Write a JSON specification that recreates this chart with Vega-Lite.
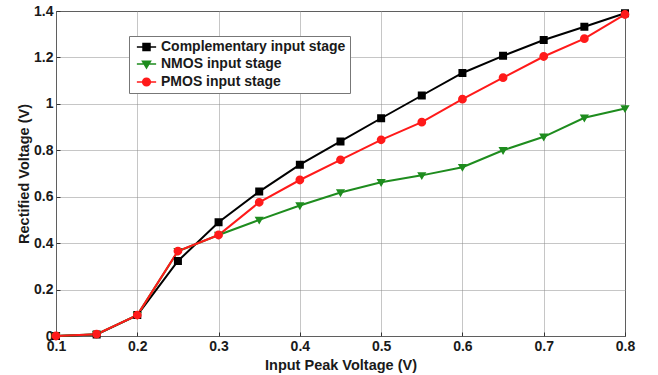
{
  "$schema": "https://vega.github.io/schema/vega-lite/v6.json",
  "width": 569,
  "height": 325,
  "autosize": {"type": "none"},
  "padding": {"left": 56, "top": 11, "right": 33, "bottom": 39},
  "background": "white",
  "config": {
    "view": {"stroke": "#333", "strokeWidth": 1},
    "axis": {
      "labelFont": "Liberation Sans",
      "titleFont": "Liberation Sans",
      "labelFontWeight": "bold",
      "titleFontWeight": "bold",
      "labelFontSize": 14,
      "titleFontSize": 14.5,
      "labelColor": "#1a1a1a",
      "titleColor": "#1a1a1a",
      "domain": false
    }
  },
  "data": {
    "values": [
      {"x": 0.1, "v": 0.0, "s": "Complementary input stage"},
      {"x": 0.15, "v": 0.006, "s": "Complementary input stage"},
      {"x": 0.2, "v": 0.09, "s": "Complementary input stage"},
      {"x": 0.25, "v": 0.323, "s": "Complementary input stage"},
      {"x": 0.3, "v": 0.49, "s": "Complementary input stage"},
      {"x": 0.35, "v": 0.622, "s": "Complementary input stage"},
      {"x": 0.4, "v": 0.738, "s": "Complementary input stage"},
      {"x": 0.45, "v": 0.838, "s": "Complementary input stage"},
      {"x": 0.5, "v": 0.938, "s": "Complementary input stage"},
      {"x": 0.55, "v": 1.036, "s": "Complementary input stage"},
      {"x": 0.6, "v": 1.133, "s": "Complementary input stage"},
      {"x": 0.65, "v": 1.207, "s": "Complementary input stage"},
      {"x": 0.7, "v": 1.275, "s": "Complementary input stage"},
      {"x": 0.75, "v": 1.332, "s": "Complementary input stage"},
      {"x": 0.8, "v": 1.39, "s": "Complementary input stage"},
      {"x": 0.1, "v": 0.0, "s": "NMOS input stage"},
      {"x": 0.15, "v": 0.008, "s": "NMOS input stage"},
      {"x": 0.2, "v": 0.09, "s": "NMOS input stage"},
      {"x": 0.25, "v": 0.365, "s": "NMOS input stage"},
      {"x": 0.3, "v": 0.435, "s": "NMOS input stage"},
      {"x": 0.35, "v": 0.5, "s": "NMOS input stage"},
      {"x": 0.4, "v": 0.562, "s": "NMOS input stage"},
      {"x": 0.45, "v": 0.618, "s": "NMOS input stage"},
      {"x": 0.5, "v": 0.662, "s": "NMOS input stage"},
      {"x": 0.55, "v": 0.692, "s": "NMOS input stage"},
      {"x": 0.6, "v": 0.727, "s": "NMOS input stage"},
      {"x": 0.65, "v": 0.8, "s": "NMOS input stage"},
      {"x": 0.7, "v": 0.858, "s": "NMOS input stage"},
      {"x": 0.75, "v": 0.94, "s": "NMOS input stage"},
      {"x": 0.8, "v": 0.98, "s": "NMOS input stage"},
      {"x": 0.1, "v": 0.0, "s": "PMOS input stage"},
      {"x": 0.15, "v": 0.008, "s": "PMOS input stage"},
      {"x": 0.2, "v": 0.09, "s": "PMOS input stage"},
      {"x": 0.25, "v": 0.366, "s": "PMOS input stage"},
      {"x": 0.3, "v": 0.435, "s": "PMOS input stage"},
      {"x": 0.35, "v": 0.576, "s": "PMOS input stage"},
      {"x": 0.4, "v": 0.672, "s": "PMOS input stage"},
      {"x": 0.45, "v": 0.759, "s": "PMOS input stage"},
      {"x": 0.5, "v": 0.845, "s": "PMOS input stage"},
      {"x": 0.55, "v": 0.921, "s": "PMOS input stage"},
      {"x": 0.6, "v": 1.02, "s": "PMOS input stage"},
      {"x": 0.65, "v": 1.113, "s": "PMOS input stage"},
      {"x": 0.7, "v": 1.204, "s": "PMOS input stage"},
      {"x": 0.75, "v": 1.281, "s": "PMOS input stage"},
      {"x": 0.8, "v": 1.385, "s": "PMOS input stage"}
    ]
  },
  "encoding": {
    "x": {
      "field": "x", "type": "quantitative",
      "scale": {"domain": [0.1, 0.8], "nice": false, "zero": false},
      "axis": {"values": [0.1, 0.2, 0.3, 0.4, 0.5, 0.6, 0.7, 0.8], "format": "~g", "title": "Input Peak Voltage (V)", "labelPadding": 7, "titlePadding": 5, "labelFlush": false, "grid": true, "gridColor": "#8c8c8c", "gridDash": [1, 1], "gridWidth": 1, "ticks": true, "tickSize": -4, "tickColor": "#333"}
    },
    "y": {
      "field": "v", "type": "quantitative",
      "scale": {"domain": [0, 1.4], "nice": false},
      "axis": {"values": [0, 0.2, 0.4, 0.6, 0.8, 1, 1.2, 1.4], "format": "~g", "title": "Rectified Voltage (V)", "labelPadding": 7, "titlePadding": 2, "labelFlush": false, "grid": true, "gridColor": "#8c8c8c", "gridDash": [1, 1], "gridWidth": 1, "ticks": true, "tickSize": -4, "tickColor": "#333"}
    }
  },
  "layer": [
    {
      "mark": {"type": "line", "strokeWidth": 2},
      "encoding": {
        "stroke": {
          "field": "s", "type": "nominal",
          "scale": {"domain": ["Complementary input stage", "NMOS input stage", "PMOS input stage"], "range": ["#000000", "#1e8c1e", "#ff1a1a"]}
        }
      }
    },
    {
      "mark": {"type": "point", "filled": true, "size": 64, "strokeWidth": 0, "opacity": 1},
      "encoding": {
        "fill": {
          "field": "s", "type": "nominal",
          "scale": {"domain": ["Complementary input stage", "NMOS input stage", "PMOS input stage"], "range": ["#000000", "#1e8c1e", "#ff1a1a"]}
        },
        "stroke": {
          "field": "s", "type": "nominal",
          "scale": {"domain": ["Complementary input stage", "NMOS input stage", "PMOS input stage"], "range": ["#000000", "#1e8c1e", "#ff1a1a"]}
        },
        "shape": {
          "field": "s", "type": "nominal",
          "scale": {"domain": ["Complementary input stage", "NMOS input stage", "PMOS input stage"], "range": ["M-2.75,0H2.75M-1,-1H1V1H-1Z", "M-2.75,0H2.75M-1.15,-0.8H1.15L0,1.15Z", "M-2.75,0H2.75M-1.1,0A1.1,1.1,0,1,0,1.1,0A1.1,1.1,0,1,0,-1.1,0Z"]},
          "legend": {
            "title": null,
            "orient": "none",
            "legendX": 73,
            "legendY": 25,
            "fillColor": "white",
            "strokeColor": "#777",
            "padding": 4,
            "labelFont": "Liberation Sans",
            "labelFontWeight": "bold",
            "labelFontSize": 14,
            "labelColor": "#1a1a1a",
            "labelLimit": 400,
            "symbolSize": 49,
            "symbolOffset": 6.5,
            "labelOffset": 7.5,
            "rowPadding": 3,
            "encode": {"symbols": {"update": {"strokeWidth": {"value": 2}, "opacity": {"value": 1}}}}
          }
        }
      }
    }
  ]
}
